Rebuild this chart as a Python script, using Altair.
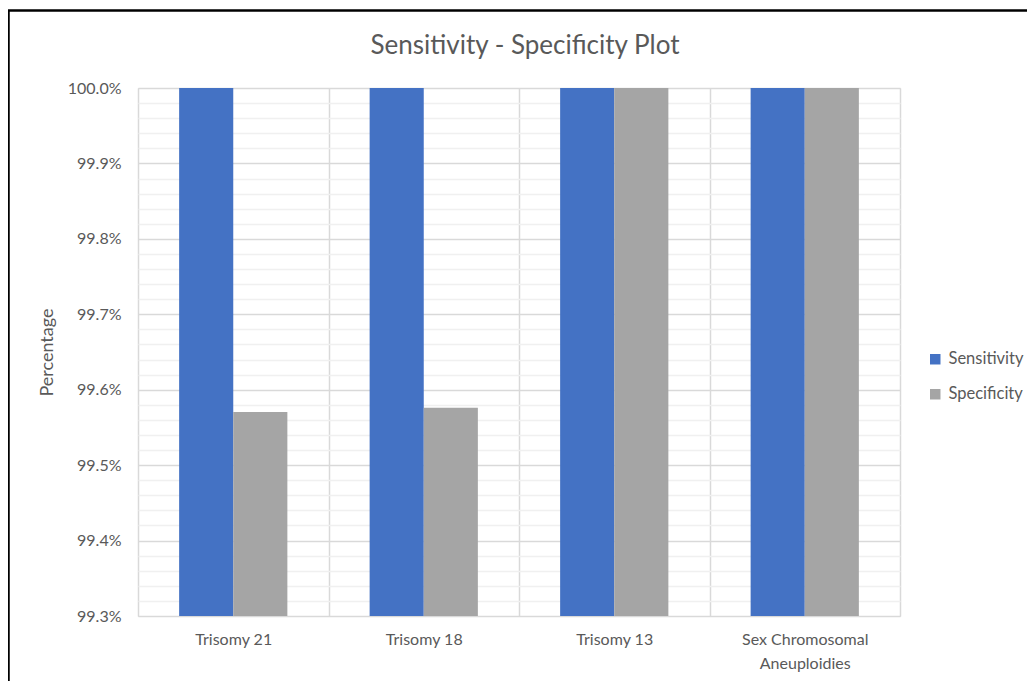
import altair as alt
import pandas as pd

categories = ["Trisomy 21", "Trisomy 18", "Trisomy 13", "Sex Chromosomal Aneuploidies"]
metrics = ["Sensitivity", "Specificity"]
sensitivity = [1.0, 1.0, 1.0, 1.0]
specificity = [0.995705, 0.99576, 1.0, 1.0]
colors = ["#4472C4", "#A5A5A5"]
y_ticks = [0.993 + i * 0.0002 for i in range(36)]

rows = []
for c, s, p in zip(categories, sensitivity, specificity):
    rows.append({"Category": c, "Metric": "Sensitivity", "Value": s})
    rows.append({"Category": c, "Metric": "Specificity", "Value": p})
df = pd.DataFrame(rows)

FONT = "Lato"
TXT = "#595959"

bars = alt.Chart(df).mark_bar().encode(
    x=alt.X(
        "Category:N",
        sort=categories,
        title=None,
        scale=alt.Scale(paddingInner=0, paddingOuter=0),
        axis=alt.Axis(
            labelAngle=0,
            grid=True,
            tickBand="extent",
            gridColor="#d9d9d9",
            gridWidth=1.5,
            ticks=False,
            domain=False,
            labelFont=FONT,
            labelFontSize=16,
            labelColor=TXT,
            labelPadding=15,
            labelLineHeight=24,
            labelExpr="datum.label == 'Sex Chromosomal Aneuploidies' ? ['Sex Chromosomal', 'Aneuploidies'] : datum.label",
        ),
    ),
    xOffset=alt.XOffset(
        "Metric:N",
        sort=metrics,
        scale=alt.Scale(paddingInner=0, paddingOuter=0.76),
    ),
    y=alt.Y(
        "Value:Q",
        title="Percentage",
        scale=alt.Scale(domain=[0.993, 1.0], zero=False, nice=False, clamp=True),
        axis=alt.Axis(
            values=[round(v, 4) for v in y_ticks],
            format=".1%",
            labelExpr="round(datum.value * 5000) % 5 == 0 ? datum.label : ''",
            gridColor=alt.condition(
                "round(datum.value * 5000) % 5 == 0",
                alt.value("#d9d9d9"),
                alt.value("#f0f0f0"),
            ),
            gridWidth=1.5,
            ticks=False,
            domain=False,
            labelFont=FONT,
            labelFontSize=16,
            labelColor=TXT,
            labelPadding=17,
            titleFont=FONT,
            titleFontSize=18,
            titleFontWeight="normal",
            titleColor=TXT,
            titlePadding=11,
        ),
    ),
    color=alt.Color(
        "Metric:N",
        sort=metrics,
        scale=alt.Scale(domain=metrics, range=colors),
        legend=alt.Legend(
            title=None,
            orient="none",
            legendX=789,
            legendY=263,
            symbolType="square",
            symbolSize=110,
            symbolStrokeWidth=0,
            labelFont=FONT,
            labelFontSize=16.5,
            labelColor=TXT,
            labelOffset=5,
            rowPadding=18,
        ),
    ),
)

frame_src = alt.Chart(pd.DataFrame({"k": [0]}))
top_border = frame_src.mark_rule(color="black", strokeWidth=2.5).encode(
    x=alt.value(-130), x2=alt.value(900), y=alt.value(-77.5)
)
left_border = frame_src.mark_rule(color="black", strokeWidth=2.5).encode(
    x=alt.value(-129.5), y=alt.value(-78), y2=alt.value(600)
)

chart = alt.layer(bars, top_border, left_border).properties(
    width=762,
    height=528,
    autosize=alt.AutoSizeParams(type="none"),
    padding={"left": 130, "top": 80, "right": 127, "bottom": 65},
    title=alt.TitleParams(
        "Sensitivity - Specificity Plot",
        font=FONT,
        fontSize=26,
        fontWeight="normal",
        color=TXT,
        anchor="middle",
        frame="group",
        dx=6,
        dy=54,
    ),
).configure_view(stroke="#d9d9d9", strokeWidth=1.5).configure(background="white")

chart.save("out.html", embed_options={"renderer": "svg", "actions": False})
